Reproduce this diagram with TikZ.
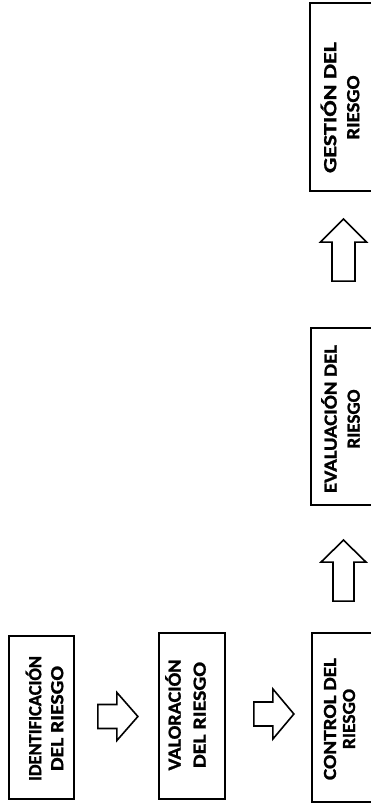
\documentclass[tikz,border=0pt]{standalone}
\usepackage{fontspec}
\usepackage{graphicx}
\usetikzlibrary{calc}
\setmainfont{Carlito}
\newfontfamily\stagefont{Carlito}[UprightFont=* Bold, FakeBold=1.2]
\tikzset{
  stagebox/.style={draw=black, line width=1.8pt, rectangle, inner sep=0pt, fill=white},
  stagetext/.style={rotate=90, align=center, inner sep=0pt,
    font=\stagefont\fontsize{18.5}{#1}\selectfont},
  stagetext/.default=22,
  arrowline/.style={draw=black, line width=1.6pt, fill=white, line join=miter},
  pics/barrow/.style n args={4}{code={
    \path[arrowline] (0,-#1) -- (#3,-#1) -- (#3,-#2) -- (#4,0) -- (#3,#2) -- (#3,#1) -- (0,#1) -- cycle;
  }}
}
\newcommand{\fitline}[2]{\resizebox{#1pt}{\height}{#2}}
\begin{document}
\begin{tikzpicture}[x=1pt,y=1pt]
\clip (0,0) rectangle (371,807);
\fill[white] (0,0) rectangle (371,807);
% boxes
\node[stagebox, minimum width=65pt, minimum height=163pt] (id)  at (41.5,89.5) {};
\node[stagebox, minimum width=66pt, minimum height=166pt] (val) at (192,91) {};
\node[stagebox, minimum width=66pt, minimum height=169pt] (ctl) at (345,89.5) {};
\node[stagebox, minimum width=66pt, minimum height=177pt] (eva) at (344,390.5) {};
\node[stagebox, minimum width=66pt, minimum height=188pt] (ges) at (343,710) {};
% texts
\node[stagetext=22] (idt)  at (44.5,88.5) {\fitline{125}{IDENTIFICACIÓN}\\\fitline{105}{DEL RIESGO}};
\node[stagetext=25] (valt) at (185.5,92)  {\fitline{111}{VALORACIÓN}\\\fitline{106}{DEL RIESGO}};
\node[stagetext=19] (ctlt) at (339.5,88)  {\fitline{122}{CONTROL DEL}\\\fitline{60}{RIESGO}};
\node[stagetext=23] (evat) at (340.5,388) {\fitline{148}{EVALUACIÓN DEL}\\\fitline{59}{RIESGO}};
\node[stagetext=23] (gest) at (340,699.5) {\fitline{131}{GESTIÓN DEL}\\\fitline{64}{RIESGO}};
% block arrows
\coordinate (a1) at ($(id.east)+(23,1)$);
\coordinate (a2) at ($(val.east)+(28,2)$);
\coordinate (u1) at ($(ctl.north)+(-1.5,31)$);
\coordinate (u2) at ($(eva.north)+(-0.5,46)$);
\pic at (a1) {barrow={12}{24}{19}{40}};
\pic at (a2) {barrow={12}{25}{19}{40}};
\pic[rotate=90] at (u1) {barrow={10.5}{22.5}{39}{61}};
\pic[rotate=90] at (u2) {barrow={11.5}{23}{39}{62}};
\end{tikzpicture}
\end{document}
